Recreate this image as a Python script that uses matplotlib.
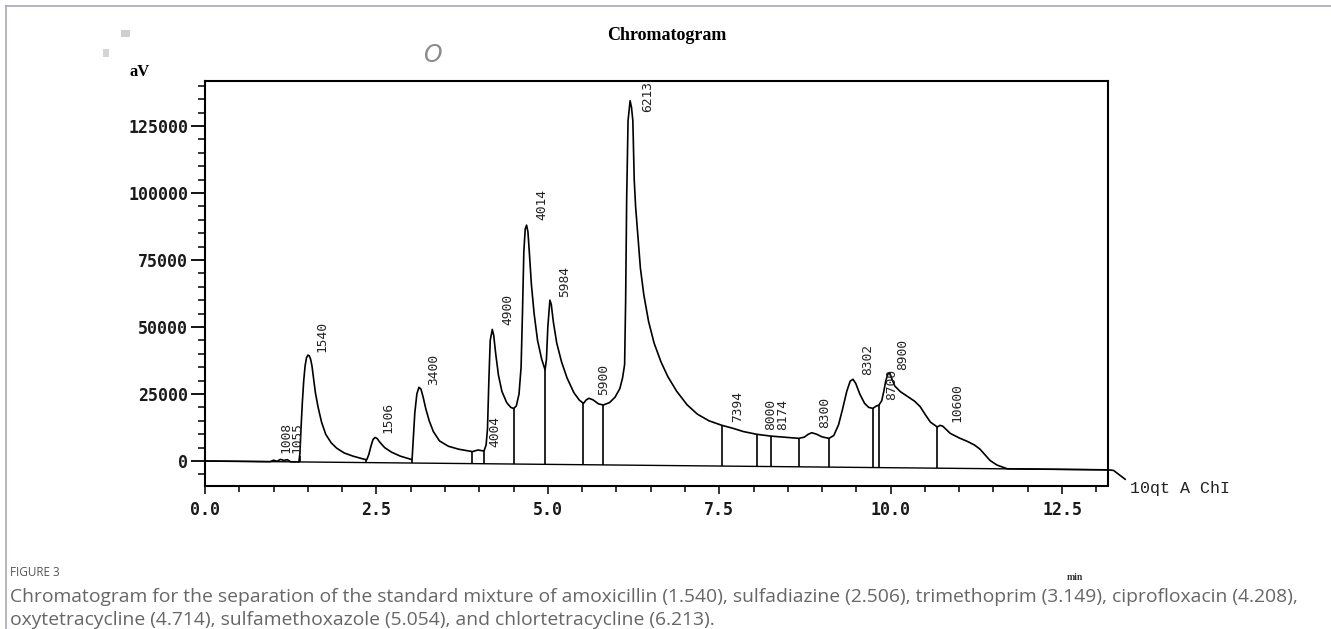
import numpy as np
import matplotlib
matplotlib.use('Agg')
import matplotlib.pyplot as plt
from matplotlib.ticker import MultipleLocator, FormatStrFormatter
from matplotlib.lines import Line2D
from matplotlib.patches import Rectangle

# detector trace (min, uV)
time_min = [0.0, 0.95, 1.0, 1.05, 1.1, 1.15, 1.2, 1.25, 1.37, 1.385, 1.40, 1.42, 1.44, 1.46,
            1.48, 1.50, 1.52, 1.54, 1.56, 1.58, 1.61, 1.65, 1.70, 1.76, 1.84, 1.92, 2.03,
            2.16, 2.33, 2.36, 2.39, 2.42, 2.45, 2.48, 2.51, 2.55, 2.62, 2.72, 2.85, 2.99,
            3.02, 3.04, 3.06, 3.09, 3.12, 3.15, 3.18, 3.22, 3.27, 3.33, 3.42, 3.55, 3.70,
            3.90, 3.98, 4.05, 4.07, 4.10, 4.12, 4.14, 4.16, 4.19, 4.21, 4.24, 4.28, 4.33,
            4.40, 4.46, 4.50, 4.54, 4.58, 4.61, 4.63, 4.65, 4.67, 4.69, 4.71, 4.73, 4.76,
            4.80, 4.85, 4.91, 4.96, 4.98, 5.00, 5.03, 5.05, 5.08, 5.13, 5.20, 5.28, 5.38,
            5.46, 5.52, 5.56, 5.60, 5.66, 5.74, 5.81, 5.90, 5.98, 6.05, 6.09, 6.12, 6.135,
            6.15, 6.17, 6.20, 6.22, 6.24, 6.26, 6.28, 6.31, 6.35, 6.40, 6.47, 6.55, 6.65,
            6.75, 6.88, 7.03, 7.18, 7.35, 7.54, 7.70, 7.85, 8.05, 8.25, 8.45, 8.66, 8.74,
            8.80, 8.85, 8.92, 9.00, 9.10, 9.17, 9.24, 9.30, 9.36, 9.41, 9.45, 9.49, 9.55,
            9.62, 9.68, 9.74, 9.79, 9.83, 9.87, 9.90, 9.93, 9.96, 9.99, 10.02, 10.06, 10.14,
            10.25, 10.35, 10.43, 10.50, 10.58, 10.68, 10.72, 10.76, 10.87, 11.00, 11.12,
            11.22, 11.30, 11.38, 11.45, 11.55, 11.70, 13.17, 13.25, 13.42]
signal_uv = [0, -250, 300, -100, 600, 200, 500, -300, -300, 3000, 12000, 22000, 30000, 35500,
             38500, 39500, 39300, 38000, 35500, 31500, 25500, 20000, 14500, 10000, 6800, 4800, 3000,
             1800, 600, 500, 2500, 5500, 8000, 8800, 8400, 7000, 5000, 3300, 1800, 750,
             500, 9000, 18000, 25000, 27500, 26800, 24000, 19500, 15000, 11000, 7500, 5500, 4400,
             3500, 4100, 3800, 3800, 6000, 12000, 30000, 45000, 49100, 47000, 40000, 32000, 26000,
             21800, 20000, 19600, 20500, 25000, 35000, 55000, 78000, 86500, 88000, 85500, 78000, 66000,
             55000, 45000, 38000, 34000, 38000, 50000, 60000, 58500, 52000, 44000, 37000, 31000, 25500,
             22700, 21500, 22800, 23400, 22800, 21300, 20900, 21800, 23800, 27000, 31000, 36000, 60000,
             98000, 127000, 134400, 132000, 127000, 105000, 95000, 85000, 72000, 62000, 52000, 44000, 37000,
             31500, 26000, 21000, 17500, 15000, 13300, 12200, 11000, 9950, 9300, 8900, 8450, 8900,
             10000, 10550, 10000, 9000, 8450, 9500, 13500, 19500, 26000, 29800, 30500, 29000, 25000,
             21500, 20000, 19650, 20500, 20900, 22500, 26000, 30000, 32500, 32700, 30500, 28000, 25900,
             24000, 22300, 20300, 17500, 14500, 12700, 13300, 13000, 10300, 8600, 7300,
             6000, 4500, 2200, 200, -1500, -2900, -3300, -3500, -6800]

baseline_t = [0.0, 13.17]
baseline_v = [0, -3300]

drop_times = [1.38, 2.35, 3.02, 3.90, 4.07, 4.50, 4.96, 5.52, 5.81, 7.54, 8.05, 8.25,
              8.66, 9.10, 9.74, 9.83, 10.68]

peak_labels = ['1008', '1055', '1540', '1506', '3400', '4004', '4900', '4014', '5984', '5900',
               '6213', '7394', '8000', '8174', '8300', '8302', '8700', '8900', '10600']
label_t = [1.18, 1.34, 1.70, 2.67, 3.33, 4.23, 4.42, 4.91, 5.25, 5.81,
           6.46, 7.77, 8.25, 8.43, 9.04, 9.67, 10.02, 10.18, 10.96]
label_v = [3000, 3000, 40700, 10400, 28400, 5200, 50700, 89900, 61200, 24600,
           130200, 14500, 11600, 11600, 12300, 32100, 22800, 34000, 14500]

fig = plt.figure(figsize=(13.31, 6.29), dpi=100)
W, H = 1331.0, 629.0
ax = fig.add_axes([205 / W, 1 - 485.5 / H, (1108 - 205) / W, (485.5 - 80.7) / H])

ax.plot(time_min, signal_uv, color='black', lw=1.2, clip_on=False)
ax.plot(baseline_t, baseline_v, color='black', lw=1.0)
tops = np.interp(drop_times, time_min, signal_uv)
bots = np.interp(drop_times, baseline_t, baseline_v)
ax.vlines(drop_times, bots, tops, color='black', lw=1.2)

for txt, t, v in zip(peak_labels, label_t, label_v):
    ax.text(t, v, txt, rotation=90, rotation_mode='anchor', ha='left', va='center',
            family='DejaVu Sans Mono', fontsize=9.3, color='#222222')

ax.set_xlim(0, 13.17)
ax.set_ylim(-9140, 141890)
ax.xaxis.set_major_locator(MultipleLocator(2.5))
ax.xaxis.set_minor_locator(MultipleLocator(0.5))
ax.xaxis.set_major_formatter(FormatStrFormatter('%.1f'))
ax.yaxis.set_major_locator(MultipleLocator(25000))
ax.yaxis.set_minor_locator(MultipleLocator(5000))
ax.tick_params(axis='y', which='major', direction='out', length=10, width=1.3, pad=2)
ax.tick_params(axis='y', which='minor', direction='out', length=5, width=1.1)
ax.tick_params(axis='x', which='major', direction='out', length=6, width=1.1, pad=5)
ax.tick_params(axis='x', which='minor', direction='out', length=4, width=1.1)
for lab in ax.get_xticklabels() + ax.get_yticklabels():
    lab.set_family('DejaVu Sans Mono')
    lab.set_fontweight('bold')
    lab.set_fontsize(12)
    lab.set_color('#1a1a1a')
for sp in ax.spines.values():
    sp.set_linewidth(1.5)

fig.text(667 / W, 1 - 35 / H, 'Chromatogram', ha='center', va='center',
         family='Liberation Serif', fontweight='bold', fontsize=13)
fig.text(130 / W, 1 - 72 / H, 'aV', ha='left', va='center',
         family='Liberation Serif', fontweight='bold', fontsize=12)
fig.text(432 / W, 1 - 55 / H, 'O', ha='center', va='center', fontstyle='italic',
         fontsize=17, color='#8a8a8a', family='DejaVu Sans', fontweight='light')
fig.text(1130 / W, 1 - 488 / H, '10qt A ChI', ha='left', va='center',
         family='Liberation Mono', fontsize=12, color='#222222')
fig.text(1075 / W, 1 - 578 / H, 'min', ha='center', va='center',
         family='Liberation Serif', fontweight='bold', fontsize=7, color='#333333')

# scan specks
fig.add_artist(Rectangle((121 / W, 1 - 37 / H), 9 / W, 7 / H, transform=fig.transFigure,
                         color='#cfcfcf', lw=0))
fig.add_artist(Rectangle((103 / W, 1 - 57 / H), 6 / W, 8 / H, transform=fig.transFigure,
                         color='#d5d5d5', lw=0))

# page frame
fig.add_artist(Line2D([6 / W, 1], [1 - 6 / H, 1 - 6 / H], transform=fig.transFigure,
                      color='#a9a9b9', lw=1.2))
fig.add_artist(Line2D([6 / W, 6 / W], [0, 1 - 6 / H], transform=fig.transFigure,
                      color='#a9a9b9', lw=1.2))

fig.text(10 / W, 1 - 573 / H, 'FIGURE 3', ha='left', va='center',
         family='Open Sans', fontsize=8.5, color='#555555')
fig.text(10 / W, 1 - 597 / H,
         'Chromatogram for the separation of the standard mixture of amoxicillin (1.540), '
         'sulfadiazine (2.506), trimethoprim (3.149), ciprofloxacin (4.208),',
         ha='left', va='center', family='Open Sans', fontsize=13.9, color='#666666')
fig.text(10 / W, 1 - 620 / H,
         'oxytetracycline (4.714), sulfamethoxazole (5.054), and chlortetracycline (6.213).',
         ha='left', va='center', family='Open Sans', fontsize=13.9, color='#666666')

fig.savefig('out.png', dpi=100)
